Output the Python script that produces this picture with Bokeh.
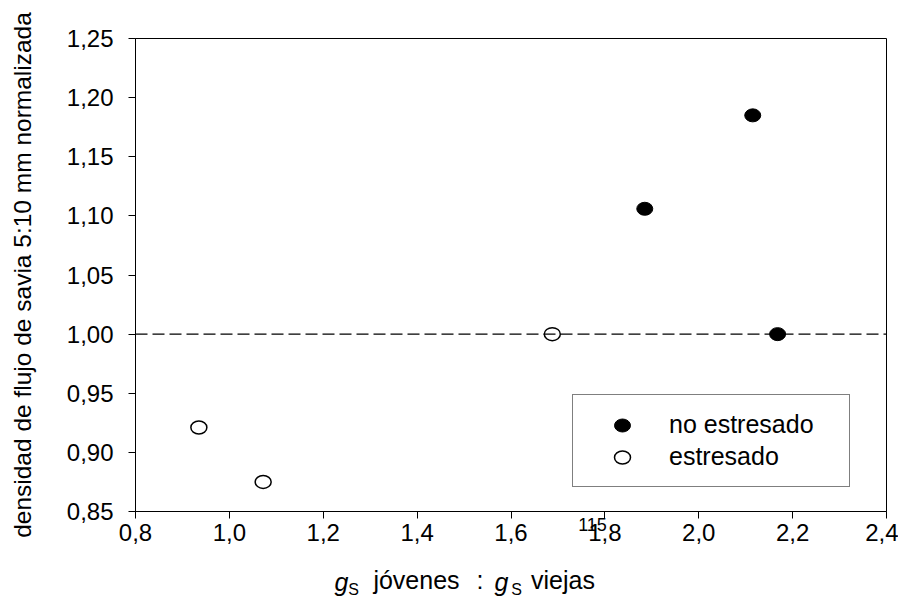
from bokeh.plotting import figure
from bokeh.models import (Span, Legend, LegendItem, FixedTicker, LinearAxis,
                          CustomJSTickFormatter)
from bokeh.embed import file_html
from bokeh.resources import INLINE

# ---- data ----
no_estresado_x = [1.885, 2.115, 2.168]
no_estresado_y = [1.106, 1.185, 1.000]
estresado_x = [0.935, 1.072, 1.688]
estresado_y = [0.921, 0.875, 1.000]
x_ticks = [0.8, 1.0, 1.2, 1.4, 1.6, 1.8, 2.0, 2.2, 2.4]
y_ticks = [0.85, 0.90, 0.95, 1.00, 1.05, 1.10, 1.15, 1.20, 1.25]
ref_level = 1.0
legend_labels = ["no estresado", "estresado"]
y_title = "densidad de flujo de savia 5:10 mm normalizada"
# x title pieces: "g_S jóvenes : g_S viejas"
x_title_words = ["jóvenes", ":", "viejas"]
x_title_g = ["g", "g"]
x_title_sub = ["S", "S"]
page_number = "115"

FONT = "Liberation Sans"


def px_x(px):
    # horizontal pixel of the frame -> data x (frame 135..886 px = 0.8..2.4)
    return 0.8 + (px - 135) / 469.375


p = figure(frame_width=751, frame_height=473,
           min_border_left=135, min_border_right=12,
           min_border_top=38, min_border_bottom=80,
           x_range=(0.8, 2.4), y_range=(0.85, 1.25),
           output_backend="svg", toolbar_location=None)
p.background_fill_color = "white"
p.border_fill_color = "white"
p.outline_line_color = "black"
p.outline_line_width = 1
p.xgrid.visible = False
p.ygrid.visible = False

for ax in (p.xaxis, p.yaxis):
    ax.axis_line_color = "black"
    ax.axis_line_width = 1
    ax.major_tick_line_color = "black"
    ax.major_tick_in = 0
    ax.major_tick_out = 7
    ax.minor_tick_line_color = None
    ax.major_label_text_font = FONT
    ax.major_label_text_font_size = "24px"
    ax.major_label_text_color = "black"

p.xaxis.ticker = FixedTicker(ticks=x_ticks)
p.yaxis.ticker = FixedTicker(ticks=y_ticks)
p.xaxis.formatter = CustomJSTickFormatter(code="return tick.toFixed(1).replace('.', ',');")
p.yaxis.formatter = CustomJSTickFormatter(code="return tick.toFixed(2).replace('.', ',');")
p.xaxis.major_label_standoff = 5
p.yaxis.major_label_standoff = 15

p.yaxis.axis_label = y_title
p.yaxis.axis_label_text_font = FONT
p.yaxis.axis_label_text_font_size = "24.5px"
p.yaxis.axis_label_text_font_style = "normal"
p.yaxis.axis_label_text_color = "black"
p.yaxis.axis_label_standoff = 28


def text_axis(labels, centers_px, size, style, standoff):
    ax = LinearAxis(ticker=FixedTicker(ticks=[px_x(c) for c in centers_px]),
                    formatter=CustomJSTickFormatter(args=dict(labels=labels),
                                                    code="return labels[index];"))
    ax.axis_line_color = None
    ax.major_tick_line_color = None
    ax.minor_tick_line_color = None
    ax.major_tick_out = 0
    ax.major_tick_in = 0
    ax.major_label_standoff = standoff
    ax.major_label_text_font = FONT
    ax.major_label_text_font_size = size
    ax.major_label_text_font_style = style
    ax.major_label_text_color = "black"
    p.add_layout(ax, "below")
    return ax


# stray page number, then the x title built from its styled pieces
text_axis([page_number], [592], "18px", "normal", -26)
text_axis(x_title_words, [416, 479.5, 562.5], "25px", "normal", 22)
text_axis(x_title_g, [341, 501], "25px", "italic", -29)
text_axis(x_title_sub, [353, 516], "16px", "normal", -18)

# dashed reference line
p.add_layout(Span(location=ref_level, dimension="width", line_color="black",
                  line_width=1.3, line_dash="12 5"))

r_ns = p.ellipse(no_estresado_x, no_estresado_y, width=16, height=13,
                 width_units="screen", height_units="screen",
                 fill_color="black", line_color="black", line_width=1)
r_s = p.ellipse(estresado_x, estresado_y, width=16, height=13,
                width_units="screen", height_units="screen",
                fill_color="white", line_color="black", line_width=1.5)

legend = Legend(items=[LegendItem(label=legend_labels[0], renderers=[r_ns]),
                       LegendItem(label=legend_labels[1], renderers=[r_s])],
                location=(437, 24))
legend.border_line_color = "black"
legend.border_line_width = 1
legend.background_fill_color = "white"
legend.background_fill_alpha = 1
legend.padding = 15
legend.spacing = 3
legend.glyph_width = 68
legend.glyph_height = 20
legend.label_standoff = 13
legend.label_width = 165
legend.label_height = 20
legend.label_text_font = FONT
legend.label_text_font_size = "25px"
legend.label_text_color = "black"
legend.margin = 0
p.add_layout(legend, "center")

open("out.html", "w").write(file_html(p, INLINE))
